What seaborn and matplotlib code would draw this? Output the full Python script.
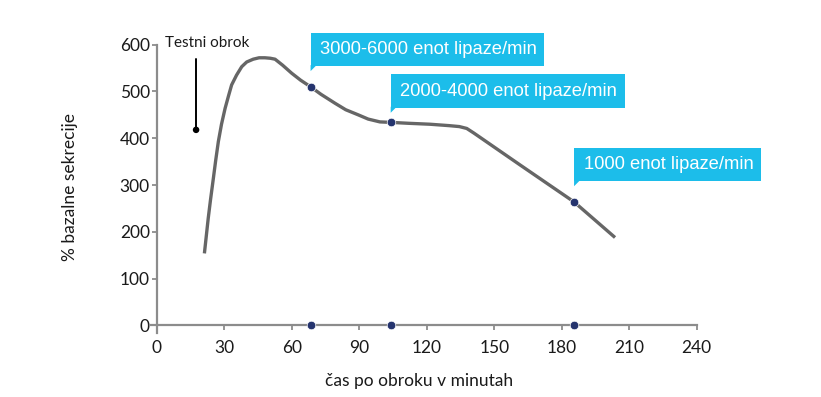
import numpy as np
import pandas as pd
import seaborn as sns
import matplotlib
matplotlib.use("Agg")
import matplotlib.pyplot as plt
from matplotlib.patches import Rectangle, Polygon
from matplotlib.transforms import IdentityTransform

# ---------------- data ----------------
time_min = [21.2, 22.9, 23.9, 25.2, 26.2, 27.4, 28.8, 30.4, 32.0, 33.3, 35.5,
            37.8, 40.0, 42.9, 45.5, 48.1, 50.5, 52.6, 56.0, 60.0, 64.0,
            68.4, 73.0, 79.2, 84.0, 89.6, 94.0, 99.2, 104.0, 112.0, 121.5,
            130.0, 134.5, 137.8, 141.0, 161.5, 185.5, 203.7]
secretion = [154, 229, 268, 315, 352, 393, 430, 464, 492, 514, 535,
             553, 563, 569, 572, 572, 571, 569, 556, 539, 524,
             510, 494, 475, 461, 450, 441, 435, 434, 432, 430,
             427, 425, 421, 411, 343, 264, 188]
marker_time = [68.4, 104.0, 185.5]
marker_secretion = [510, 434, 264]
marker_labels = ["3000-6000 enot lipaze/min", "2000-4000 enot lipaze/min",
                 "1000 enot lipaze/min"]
meal_time = 17.5
meal_top = 569
meal_bottom = 418
meal_label = "Testni obrok"
x_ticks = [0, 30, 60, 90, 120, 150, 180, 210, 240]
y_ticks = [0, 100, 200, 300, 400, 500, 600]
x_label = "čas po obroku v minutah"
y_label = "% bazalne sekrecije"

# ---------------- style ----------------
sns.set_theme(style="white")
plt.rcParams["font.family"] = ["Lato", "DejaVu Sans"]

AXIS_GRAY = "#8c8c8c"
CURVE_GRAY = "#666666"
DOT_BLUE = "#25346e"
CYAN = "#1cbdea"
TEXT = "#1a1a1a"

fig = plt.figure(figsize=(8.21, 3.97), dpi=100)
ax = fig.add_axes([147.7 / 821, (397 - 333.9) / 397, 549 / 821, 293.9 / 397])
ax.set_xlim(-4, 240)
ax.set_ylim(-18, 610)

curve = pd.DataFrame({"t": time_min, "s": secretion})
sns.lineplot(data=curve, x="t", y="s", sort=False, ax=ax, color=CURVE_GRAY,
             linewidth=2.4, solid_capstyle="butt", solid_joinstyle="round", zorder=3)

dots = pd.DataFrame({"t": marker_time + marker_time,
                     "s": marker_secretion + [0] * len(marker_time)})
sns.scatterplot(data=dots, x="t", y="s", ax=ax, color=DOT_BLUE, s=38,
                edgecolor="white", linewidth=0.5, zorder=5, clip_on=False)

# meal marker
ax.plot([meal_time, meal_time], [meal_top, meal_bottom], color="black", lw=1.4, zorder=4)
sns.scatterplot(x=[meal_time], y=[meal_bottom], ax=ax, color="black", s=22,
                edgecolor="none", zorder=5)
ax.text(3.7, 604, meal_label, ha="left", va="center", fontsize=11, color=TEXT)

# axes styling
for side in ["top", "right"]:
    ax.spines[side].set_visible(False)
ax.spines["left"].set_position(("data", 0))
ax.spines["bottom"].set_position(("data", 0))
ax.spines["left"].set_bounds(-16, 600)
ax.spines["bottom"].set_bounds(-3, 240)
for side in ["left", "bottom"]:
    ax.spines[side].set_color(AXIS_GRAY)
    ax.spines[side].set_linewidth(1.6)
ax.set_xticks(x_ticks)
ax.set_yticks(y_ticks)
ax.tick_params(axis="x", direction="out", length=3.5, width=1.3, color=AXIS_GRAY,
               labelsize=12.5, labelcolor=TEXT, pad=7, bottom=True)
ax.tick_params(axis="y", direction="out", length=3.5, width=1.3, color=AXIS_GRAY,
               labelsize=12.5, labelcolor=TEXT, pad=1.5, left=True)
ax.set_xlabel(x_label, fontsize=12.5, color=TEXT, va="center")
ax.set_ylabel(y_label, fontsize=12.5, color=TEXT, va="center")
ax.xaxis.set_label_coords((419 - 147.7) / 549, (333.9 - 381) / 293.9)
ax.yaxis.set_label_coords((70 - 147.7) / 549, (333.9 - 187) / 293.9)

# ---------------- callout boxes ----------------
fig.canvas.draw()
renderer = fig.canvas.get_renderer()
gaps = [20.7, 14.6, 20.7]
box_h = 33.5
pad_l, pad_r = 9.5, 7.5
ident = IdentityTransform()
for (tx, sy, lab, gap) in zip(marker_time, marker_secretion, marker_labels, gaps):
    px, py = ax.transData.transform((tx, sy))
    left = px
    bottom = py + gap
    t = fig.text(left + pad_l, bottom + box_h / 2, lab, transform=ident,
                 ha="left", va="center", fontsize=13.2, color="white",
                 family=["Liberation Sans", "DejaVu Sans"], zorder=7)
    ext = t.get_window_extent(renderer)
    w = ext.width + pad_l + pad_r
    fig.patches.append(Rectangle((left, bottom), w, box_h, transform=ident,
                                 facecolor=CYAN, edgecolor="none", zorder=6, figure=fig))
    fig.patches.append(Polygon([(left, bottom + 1), (left, bottom - 5), (left + 6, bottom + 1)],
                               closed=True, transform=ident, facecolor=CYAN,
                               edgecolor="none", zorder=6, figure=fig))

fig.savefig("out.png", dpi=100)
